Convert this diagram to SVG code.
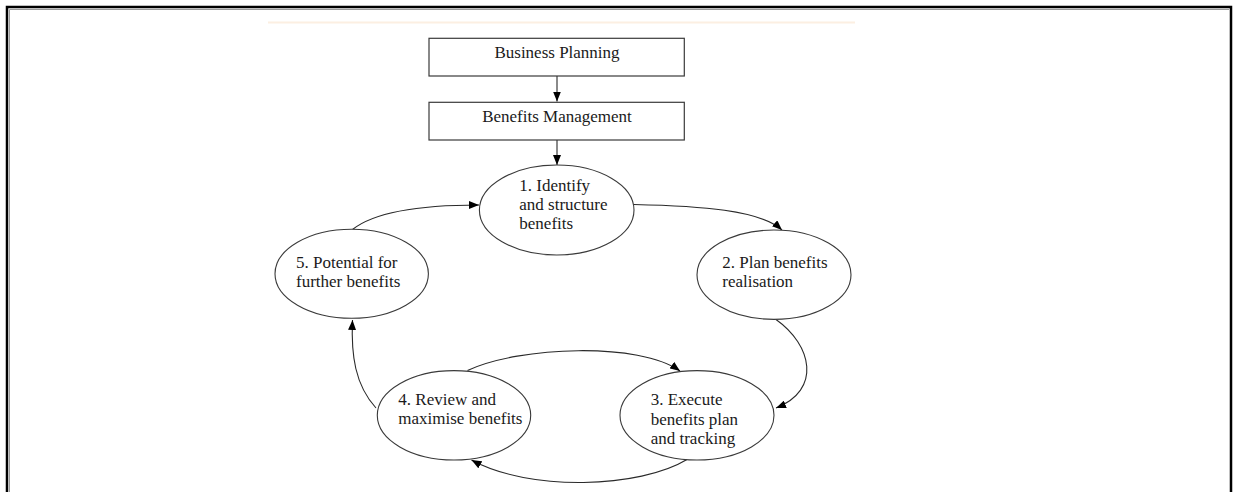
<svg xmlns="http://www.w3.org/2000/svg" width="1234" height="492" viewBox="0 0 1234 492">
<style>
.box{fill:#fff;stroke:#3a3a3a;stroke-width:1.2}
.ell{fill:#fff;stroke:#3a3a3a;stroke-width:1.1}
text{font-family:'Liberation Serif','Times New Roman',Times,'DejaVu Serif',serif;font-size:17px;fill:#1a1a1a}
.mid{text-anchor:middle}
.con{fill:none;stroke:#2a2a2a;stroke-width:1.1}
</style>
<defs>
<marker id="ah" markerUnits="userSpaceOnUse" markerWidth="10" markerHeight="8" refX="10" refY="4" orient="auto">
<path d="M0,0 L10,4 L0,8 z" fill="#000"/>
</marker>
</defs>
<rect x="0" y="0" width="1234" height="492" fill="#fff"/>
<path d="M9.5,492 V9.5 H1229" fill="none" stroke="#9a9a9a" stroke-width="1"/>
<path d="M7,492 V7 H1231 V492" fill="none" stroke="#000" stroke-width="2.5"/>
<line x1="268" y1="22.5" x2="855" y2="22.5" stroke="#fcefe2" stroke-width="2"/>

<g id="connectors">
<path class="con" d="M557,76 V101.5" marker-end="url(#ah)"/>
<path class="con" d="M557,140 V165" marker-end="url(#ah)"/>
<path class="con" d="M634,204.5 C700,206 760,210 782,230" marker-end="url(#ah)"/>
<path class="con" d="M776,319.5 C812,345 822,390 776,408" marker-end="url(#ah)"/>
<path class="con" d="M467.5,370.5 C520,346 640,342 680,371" marker-end="url(#ah)"/>
<path class="con" d="M687,459.5 C640,488 530,492 471.5,460" marker-end="url(#ah)"/>
<path class="con" d="M376,408 C355,385 351,355 352.5,320" marker-end="url(#ah)"/>
<path class="con" d="M352.5,229.5 C372,214 410,205 479,205" marker-end="url(#ah)"/>
</g>

<g id="business-planning">
<rect class="box" x="429" y="38.3" width="255.3" height="37.7"/>
<text class="mid" x="557" y="58.3" font-family="Liberation Serif, serif">Business Planning</text>
</g>
<g id="benefits-management">
<rect class="box" x="429" y="102.3" width="255.3" height="37.7"/>
<text class="mid" x="557" y="121.7" font-family="Liberation Serif, serif">Benefits Management</text>
</g>
<g id="step1">
<ellipse class="ell" cx="556.7" cy="210" rx="77.3" ry="45"/>
<text x="519.3" y="190.7">1. Identify</text>
<text x="519.3" y="210">and structure</text>
<text x="519.3" y="229.3">benefits</text>
</g>
<g id="step2">
<ellipse class="ell" cx="774" cy="274.7" rx="77" ry="44.7"/>
<text x="722.3" y="268.3">2. Plan benefits</text>
<text x="722.3" y="286.7">realisation</text>
</g>
<g id="step3">
<ellipse class="ell" cx="697" cy="415.3" rx="77" ry="44.7"/>
<text x="650.7" y="405">3. Execute</text>
<text x="650.7" y="425">benefits plan</text>
<text x="650.7" y="444.3">and tracking</text>
</g>
<g id="step4">
<ellipse class="ell" cx="454" cy="415.3" rx="76.7" ry="44.7"/>
<text x="398.3" y="405">4. Review and</text>
<text x="398.3" y="424.3">maximise benefits</text>
</g>
<g id="step5">
<ellipse class="ell" cx="351.7" cy="273.8" rx="76.7" ry="44.5"/>
<text x="296" y="268.3">5. Potential for</text>
<text x="296" y="286.7">further benefits</text>
</g>
</svg>
